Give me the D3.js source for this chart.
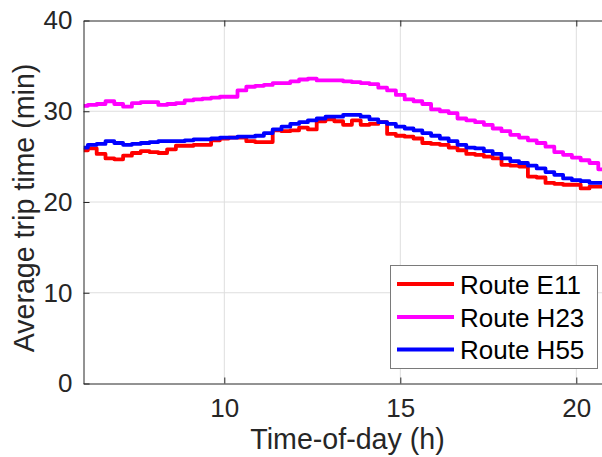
<!DOCTYPE html>
<html>
<head>
<meta charset="utf-8">
<script src="https://cdn.jsdelivr.net/npm/d3@7"></script>
<style>
  html, body { margin: 0; padding: 0; background: #ffffff; }
  svg { display: block; }
  text { font-family: "Liberation Sans", Arial, Helvetica, sans-serif; fill: #262626; }
</style>
</head>
<body>
<svg id="chart" width="602" height="457"></svg>
<script>
// Sample times (hours), one sample every quarter hour
const hours = d3.range(6, 20.76, 0.25);

// Average trip time per route (minutes)
const routeE11 = [
  25.7, 25.9, 25.3, 24.8, 24.7, 25.1, 25.4, 25.6, 25.5, 25.4,
  25.8, 26.2, 26.2, 26.3, 26.3, 26.8, 27.0, 27.1, 27.1, 26.7,
  26.6, 26.6, 27.9, 27.8, 27.9, 28.2, 28.0, 28.9, 29.1, 28.9,
  28.5, 29.0, 28.5, 28.6, 28.8, 27.5, 27.3, 27.2, 27.0, 26.5,
  26.4, 26.3, 26.0, 25.7, 25.3, 25.2, 25.0, 24.8, 24.1, 24.0,
  23.9, 22.8, 22.7, 22.1, 22.0, 21.9, 21.9, 21.5, 21.7, 21.7
];
const routeH23 = [
  30.6, 30.7, 30.8, 31.1, 30.8, 30.5, 30.9, 31.0, 31.0, 30.7,
  30.8, 30.9, 31.2, 31.3, 31.4, 31.5, 31.6, 31.6, 32.3, 32.7,
  32.8, 32.9, 33.1, 33.1, 33.3, 33.5, 33.6, 33.4, 33.4, 33.4,
  33.3, 33.2, 33.1, 33.0, 32.6, 32.3, 31.8, 31.3, 31.1, 30.8,
  30.2, 30.0, 29.8, 29.2, 29.0, 28.8, 28.5, 28.1, 27.8, 27.4,
  27.1, 26.8, 26.5, 26.1, 25.5, 25.2, 24.9, 24.6, 24.3, 23.6
];
const routeH55 = [
  26.0, 26.3, 26.4, 26.7, 26.5, 26.3, 26.4, 26.5, 26.6, 26.7,
  26.7, 26.7, 26.8, 26.9, 26.9, 27.0, 27.1, 27.1, 27.2, 27.2,
  27.3, 27.6, 28.0, 28.3, 28.6, 28.8, 29.0, 29.2, 29.4, 29.4,
  29.6, 29.6, 29.4, 29.1, 28.8, 28.6, 28.3, 28.1, 27.9, 27.6,
  27.3, 27.0, 26.7, 26.3, 26.0, 25.9, 25.6, 25.3, 24.8, 24.5,
  24.3, 24.0, 23.7, 23.3, 23.0, 22.6, 22.4, 22.3, 22.1, 22.1
];

const seriesNames = ["Route E11", "Route H23", "Route H55"];
const seriesColors = ["#ff0000", "#ff00ff", "#0000ff"];
const xTicks = [10, 15, 20];
const yTicks = [0, 10, 20, 30, 40];

const series = [routeE11, routeH23, routeH55].map((vals, i) => ({
  name: seriesNames[i],
  color: seriesColors[i],
  points: vals.map((v, j) => [hours[j], v])
}));

const svg = d3.select("#chart");
const plotL = 83.5, plotT = 20.5, plotB = 383.5, plotR = 611.5;

const x = d3.scaleLinear().domain([6, 21]).range([plotL, plotR]);
const y = d3.scaleLinear().domain([0, 40]).range([plotB, plotT]);

const axisColor = "#262626";
const gridColor = "#dedede";
const tickFont = 26;
const labelFont = 28.6;

// grid
const grid = svg.append("g");
grid.selectAll("line.gx").data(xTicks).join("line")
  .attr("x1", d => x(d)).attr("x2", d => x(d))
  .attr("y1", plotT).attr("y2", plotB)
  .attr("stroke", gridColor).attr("stroke-width", 1);
grid.selectAll("line.gy").data(yTicks.filter(d => d > 0 && d < 40)).join("line")
  .attr("x1", plotL).attr("x2", plotR)
  .attr("y1", d => y(d)).attr("y2", d => y(d))
  .attr("stroke", gridColor).attr("stroke-width", 1);

// data lines
svg.append("clipPath").attr("id", "plotclip")
  .append("rect").attr("x", plotL).attr("y", plotT).attr("width", plotR - plotL).attr("height", plotB - plotT);

const line = d3.line()
  .x(d => x(d[0]))
  .y(d => y(d[1]))
  .curve(d3.curveStep);

svg.append("g").attr("clip-path", "url(#plotclip)")
  .selectAll("path").data(series).join("path")
  .attr("d", d => line(d.points))
  .attr("fill", "none")
  .attr("stroke", d => d.color)
  .attr("stroke-width", 3.8)
  .attr("stroke-linejoin", "round");

// axes
const xAxis = d3.axisBottom(x).tickValues(xTicks).tickSizeInner(-6).tickSizeOuter(0).tickPadding(15);
const gx = svg.append("g").attr("transform", `translate(0,${plotB})`).call(xAxis);
const yAxis = d3.axisLeft(y).tickValues(yTicks).tickSizeInner(-6).tickSizeOuter(0).tickPadding(11);
const gy = svg.append("g").attr("transform", `translate(${plotL},0)`).call(yAxis);
const xTop = d3.axisTop(x).tickValues(xTicks).tickSizeInner(-6).tickSizeOuter(0).tickFormat("");
const gt = svg.append("g").attr("transform", `translate(0,${plotT})`).call(xTop);

[gx, gy, gt].forEach(g => {
  g.select(".domain").attr("stroke", axisColor).attr("stroke-width", 1);
  g.selectAll(".tick line").attr("stroke", axisColor);
  g.selectAll(".tick text")
    .attr("fill", axisColor)
    .style("font-family", '"Liberation Sans", Arial, sans-serif')
    .style("font-size", tickFont + "px");
});

// axis titles
svg.append("text")
  .attr("x", (plotL + plotR) / 2).attr("y", 449)
  .attr("text-anchor", "middle")
  .style("font-size", labelFont + "px")
  .text("Time-of-day (h)");

svg.append("text")
  .attr("transform", `translate(33.5,208) rotate(-90)`)
  .attr("text-anchor", "middle")
  .style("font-size", labelFont + "px")
  .text("Average trip time (min)");

// legend
const lg = svg.append("g");
lg.append("rect")
  .attr("x", 390.5).attr("y", 265.5).attr("width", 207).attr("height", 103)
  .attr("fill", "#ffffff").attr("stroke", "#7a7a7a").attr("stroke-width", 1);
const rowY = [284, 317, 349.5];
series.forEach((s, i) => {
  lg.append("line")
    .attr("x1", 397).attr("x2", 454)
    .attr("y1", rowY[i]).attr("y2", rowY[i])
    .attr("stroke", s.color).attr("stroke-width", 4);
  lg.append("text")
    .attr("x", 460).attr("y", rowY[i] + 9.5)
    .style("font-size", tickFont + "px")
    .style("fill", "#000000")
    .text(s.name);
});
</script>
</body>
</html>
